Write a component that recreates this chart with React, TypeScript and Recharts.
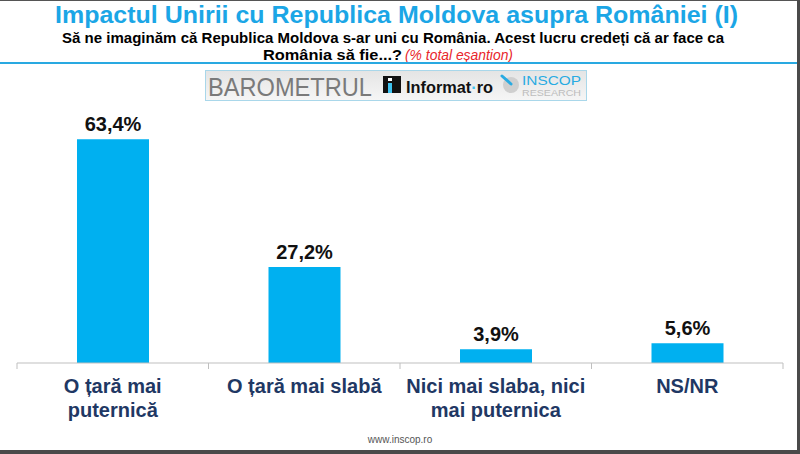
import { BarChart, Bar, XAxis, YAxis, LabelList } from 'recharts';

const categories = ['O țară mai puternică', 'O țară mai slabă', 'Nici mai slaba, nici mai puternica', 'NS/NR'];
const categoryLines = [
  ['O țară mai', 'puternică'],
  ['O țară mai slabă'],
  ['Nici mai slaba, nici', 'mai puternica'],
  ['NS/NR'],
];
const shares = [63.4, 27.2, 3.9, 5.6];

const data = categories.map((name, i) => ({ name, value: shares[i] }));

const W = 800;
const H = 454;
const BAND = (W - 17 - 17) / categories.length;
const sans = '"Liberation Sans", Arial, sans-serif';

const fmt = (v: any) => `${Number(v).toFixed(1).replace('.', ',')}%`;

function CategoryTick(props: any) {
  const { x, y, payload, index } = props;
  const lines = categoryLines[index] || [payload.value];
  const left = x - BAND / 2;
  // y comes in 8px below the axis line (tickSize + tickMargin)
  return (
    <g>
      <line x1={left} y1={y - 8} x2={left} y2={y - 2} stroke="#bfbfbf" />
      {index === categories.length - 1 && (
        <line x1={x + BAND / 2} y1={y - 8} x2={x + BAND / 2} y2={y - 2} stroke="#bfbfbf" />
      )}
      {lines.map((l: string, i: number) => (
        <text
          key={i}
          x={x}
          y={y + 22 + i * 24}
          textAnchor="middle"
          fill="#1f3864"
          fontFamily={sans}
          fontWeight="bold"
          fontSize={20}
        >
          {l}
        </text>
      ))}
    </g>
  );
}

function Header() {
  return (
    <svg width={W} height={H} style={{ position: 'absolute', top: 0, left: 0 }}>
      <defs>
        <linearGradient id="logoBg" x1="0" y1="0" x2="0" y2="1">
          <stop offset="0" stopColor="#e4e4e4" />
          <stop offset="1" stopColor="#f6f6f6" />
        </linearGradient>
      </defs>
      <rect x={0} y={0} width={W} height={H} fill="#fff" />
      <text x={55} y={23} textLength={683} lengthAdjust="spacingAndGlyphs" fill="#1ba6e6" fontFamily={sans} fontWeight="bold" fontSize={23}>
        Impactul Unirii cu Republica Moldova asupra României (I)
      </text>
      <text x={62} y={43} textLength={662} lengthAdjust="spacingAndGlyphs" fill="#000" fontFamily={sans} fontWeight="bold" fontSize={15}>
        Să ne imaginăm că Republica Moldova s-ar uni cu România. Acest lucru credeți că ar face ca
      </text>
      <text x={263} y={60} textLength={139} lengthAdjust="spacingAndGlyphs" fill="#000" fontFamily={sans} fontWeight="bold" fontSize={15}>
        România să fie...?
      </text>
      <text x={405} y={60} textLength={108} lengthAdjust="spacingAndGlyphs" fill="#e8262b" fontFamily={sans} fontStyle="italic" fontSize={14}>
        (% total eșantion)
      </text>
      <rect x={0} y={62} width={797} height={2} fill="#29a9e1" />

      <rect x={205.5} y={70.5} width={381} height={30} fill="url(#logoBg)" stroke="#a9d7ea" />
      <text x={208} y={96} textLength={164} lengthAdjust="spacingAndGlyphs" fill="#7a7a7a" fontFamily={sans} fontWeight={300} fontSize={26}>
        BAROMETRUL
      </text>
      <rect x={383} y={76} width={18} height={17} fill="#111" />
      <rect x={388} y={78} width={4} height={3} fill="#fff" />
      <rect x={388} y={83} width={4} height={10} fill="#3ec3f0" />
      <text x={406} y={93} textLength={87} lengthAdjust="spacingAndGlyphs" fill="#111" fontFamily={sans} fontWeight="bold" fontSize={16}>
        Informat<tspan fill="#3ec3f0">·</tspan>ro
      </text>
      <circle cx={511} cy={85} r={8} fill="#cfcfcf" />
      <line x1={502} y1={76} x2={511} y2={84} stroke="#29abe2" strokeWidth={3} strokeLinecap="round" />
      <text x={522} y={85} textLength={59} lengthAdjust="spacingAndGlyphs" fill="#29abe2" fontFamily={sans} fontSize={12}>
        INSCOP
      </text>
      <text x={522} y={96} textLength={59} lengthAdjust="spacingAndGlyphs" fill="#bdbdbd" fontFamily={sans} fontSize={9}>
        RESEARCH
      </text>

      <text x={400} y={443} textAnchor="middle" fill="#555" fontFamily={sans} fontSize={10}>
        www.inscop.ro
      </text>

      <rect x={0} y={0} width={W} height={1} fill="#555" />
      <rect x={797} y={0} width={3} height={H} fill="#4a4a4a" />
      <rect x={0} y={450} width={W} height={4} fill="#4a4a4a" />
    </svg>
  );
}

export default function App() {
  return (
    <div style={{ position: 'absolute', top: 0, left: 0, width: W, height: H, background: '#fff' }}>
      <Header />
      <div style={{ position: 'absolute', top: 0, left: 0 }}>
        <BarChart width={W} height={H} data={data} margin={{ top: 116, right: 17, left: 17, bottom: 0 }}>
          <YAxis hide domain={[0, 70]} />
          <XAxis
            dataKey="name"
            axisLine={{ stroke: '#bfbfbf' }}
            tickLine={false}
            tick={<CategoryTick />}
            interval={0}
            height={91}
          />
          <Bar dataKey="value" fill="#00b0f0" barSize={72} isAnimationActive={false}>
            <LabelList
              dataKey="value"
              position="top"
              offset={8}
              formatter={fmt}
              fill="#111"
              fontFamily={sans}
              fontWeight="bold"
              fontSize={20}
            />
          </Bar>
        </BarChart>
      </div>
    </div>
  );
}
